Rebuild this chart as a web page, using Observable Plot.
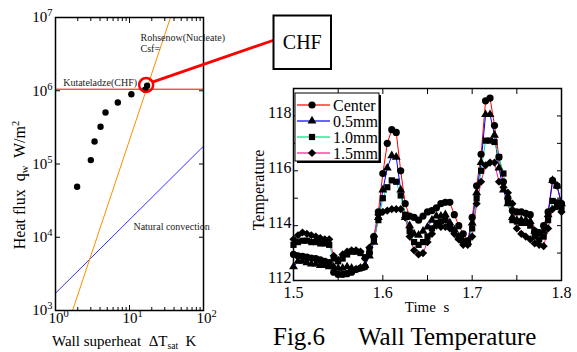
<!DOCTYPE html>
<html><head><meta charset="utf-8">
<script src="https://cdn.jsdelivr.net/npm/d3@7"></script>
<script src="https://cdn.jsdelivr.net/npm/@observablehq/plot@0.6"></script>
<style>
html,body{margin:0;padding:0;background:#fff;}
#wrap{position:relative;width:577px;height:352px;overflow:hidden;background:#fff;font-family:"Liberation Serif","Times New Roman",serif;}
#wrap svg{position:absolute;left:0;top:0;}
#wrap svg text{font-family:"Liberation Serif","Times New Roman",serif !important;}
</style></head><body><div id="wrap"></div>
<script>
// ---------- Left chart: boiling curve ----------
const boilDT = [1.96, 3.0, 3.37, 4.06, 4.74, 6.95, 10.6, 16.3, 17.3];
const boilQ  = [4.9e4, 1.13e5, 2.03e5, 3.22e5, 5.05e5, 6.9e5, 8.97e5, 1.03e6, 1.17e6];
const chfDT = [1, 100];
const chfQ  = [1.05e6, 1.05e6];
const rohsenowDT = [1.70, 35.8];
const rohsenowQ  = [1e3, 1e7];
const naturalDT = [1, 100];
const naturalQ  = [1.72e3, 1.75e5];
const chfMarkDT = [16.8];
const chfMarkQ  = [1.2e6];
const dtMajor = [1, 10, 100];
const dtMinor = [2,3,4,5,6,7,8,9,20,30,40,50,60,70,80,90];
const qTicks  = [1e3, 1e4, 1e5, 1e6, 1e7];

// ---------- Right chart: wall temperature ----------
const times = [1.500,1.505,1.510,1.515,1.520,1.525,1.530,1.535,1.540,1.545,
 1.550,1.555,1.560,1.565,1.570,1.575,1.580,1.585,1.590,1.595,
 1.600,1.605,1.610,1.615,1.620,1.625,1.630,1.635,1.640,1.645,
 1.650,1.655,1.660,1.665,1.670,1.675,1.680,1.685,1.690,1.695,
 1.700,1.705,1.710,1.715,1.720,1.725,1.730,1.735,1.740,1.745,
 1.750,1.755,1.760,1.765,1.770,1.775,1.780,1.785,1.790,1.795,1.800];
const seriesNames = ["Center", "0.5mm", "1.0mm", "1.5mm"];
const tCenter = [112.95,112.9,112.88,112.85,112.82,112.8,112.75,112.7,112.65,112.3,
 112.22,112.22,112.25,112.3,112.4,112.45,112.5,113.0,113.6,114.5,
 115.9,117.0,117.5,117.4,116.0,114.8,114.35,114.3,114.2,114.35,
 114.5,114.55,114.65,114.8,114.85,114.85,114.4,114.0,113.7,113.45,
 114.3,115.45,116.6,118.55,118.65,117.65,116.5,115.6,115.0,114.55,
 114.5,114.5,114.45,114.4,113.8,113.75,114.0,114.5,115.65,115.45,114.8];
const t05 = [112.5,112.7,112.7,112.65,112.6,112.6,112.55,112.55,112.5,112.5,
 112.45,112.45,112.5,112.45,112.4,112.45,112.55,112.9,113.4,114.3,
 115.3,116.1,116.55,116.5,115.3,114.3,114.0,113.7,113.65,113.8,
 113.95,114.2,114.35,114.35,114.4,114.1,113.85,113.6,113.45,113.4,
 114.1,115.2,116.3,118.05,118.05,117.3,116.1,115.3,114.8,114.3,
 114.2,114.2,114.2,114.15,113.8,113.7,113.8,114.4,115.65,115.45,114.8];
const t10 = [113.3,113.4,113.45,113.45,113.4,113.4,113.35,113.35,113.3,112.8,
 112.7,112.8,112.95,113.05,113.05,113.0,112.85,113.1,113.5,114.2,
 115.0,115.4,115.65,115.6,115.1,114.4,113.8,113.4,113.3,113.4,
 113.6,113.9,114.1,114.15,114.2,114.0,113.8,113.55,113.4,113.35,
 113.9,115.0,116.0,117.1,117.1,117.05,116.5,115.9,114.9,114.2,
 114.15,114.1,114.1,114.0,113.6,113.5,113.6,114.2,114.9,114.85,114.6];
const t15 = [113.5,113.65,113.75,113.7,113.65,113.6,113.55,113.5,113.5,112.9,
 112.75,112.95,113.05,113.1,113.1,113.05,112.8,113.2,113.6,114.4,
 114.5,114.55,114.6,114.6,114.6,114.3,113.6,113.1,112.95,113.0,
 113.4,113.7,114.0,113.95,113.95,113.9,113.7,113.5,113.3,113.3,
 113.6,114.8,115.6,116.2,116.3,116.3,115.6,115.4,115.2,114.8,
 113.9,113.7,113.6,113.5,113.35,113.3,113.25,113.9,114.6,114.7,114.5];
const tempMajor = [112, 114, 116, 118];
const tempTicks = [112,113,114,115,116,117,118,119];
const timeMajor = [1.5, 1.6, 1.7, 1.8];
const timeTicks = [1.5,1.55,1.6,1.65,1.7,1.75,1.8];

// ---------- styles ----------
const seriesColors  = ["#ff0000", "#0000ff", "#00e07a", "#ff1a8c"];
const seriesSymbols = ["circle", "triangle", "square", "diamond2"];
const seriesR       = [3.6, 3.3, 3.5, 3.7];
const FONT = "'Liberation Serif', 'Times New Roman', serif";

const wrap = document.getElementById("wrap");
const W = 577, H = 352;

// ----- left plot -----
const boil = boilDT.map((x, i) => ({x, y: boilQ[i]}));
const chf = chfDT.map((x, i) => ({x, y: chfQ[i]}));
const roh = rohsenowDT.map((x, i) => ({x, y: rohsenowQ[i]}));
const nat = naturalDT.map((x, i) => ({x, y: naturalQ[i]}));
const mark = chfMarkDT.map((x, i) => ({x, y: chfMarkQ[i]}));
const blank = () => "";
const expFmt = d => "10^" + Math.round(Math.log10(d));

const left = Plot.plot({
  width: W, height: H,
  marginLeft: 55, marginRight: 374, marginTop: 17, marginBottom: 42,
  style: {fontFamily: FONT, background: "transparent", color: "black", overflow: "visible"},
  x: {type: "log", domain: [1, 100], axis: null, label: null},
  y: {type: "log", domain: [1e3, 1e7], axis: null, label: null},
  marks: [
    Plot.line(nat, {x: "x", y: "y", stroke: "#3535ff", strokeWidth: 1}),
    Plot.line(roh, {x: "x", y: "y", stroke: "#ff8c00", strokeWidth: 1}),
    Plot.line(chf, {x: "x", y: "y", stroke: "#ff0000", strokeWidth: 1}),
    Plot.dot(boil, {x: "x", y: "y", r: 3.2, fill: "black"}),
    Plot.dot(mark, {x: "x", y: "y", r: 7, stroke: "#ff0000", strokeWidth: 2.5, fill: "none"}),
    Plot.text(["Kutateladze(CHF)"], {x: chfDT[0] * 1.27, y: chfQ[0], text: d => d, textAnchor: "start", lineAnchor: "bottom", dy: -3, fontSize: 10, fill: "#222"}),
    Plot.text(["Rohsenow(Nucleate)\nCsf="], {x: 14.1, y: 6.2e6, text: d => d, textAnchor: "start", lineAnchor: "top", lineHeight: 1.1, fontSize: 10, fill: "#222"}),
    Plot.text(["Natural convection"], {x: 11.3, y: 1.37e4, text: d => d, textAnchor: "start", fontSize: 10, fill: "#222"}),
    Plot.frame({stroke: "black", strokeWidth: 1.5}),
    Plot.axisX(dtMajor, {anchor: "bottom", tickSize: -5, tickFormat: blank, label: null}),
    Plot.axisX(dtMinor, {anchor: "bottom", tickSize: -3, tickFormat: blank, label: null}),
    Plot.axisX(dtMajor, {anchor: "top", tickSize: -5, tickFormat: blank, label: null}),
    Plot.axisX(dtMinor, {anchor: "top", tickSize: -3, tickFormat: blank, label: null}),
    Plot.axisY(qTicks, {anchor: "left", tickSize: -5, tickFormat: blank, label: null}),
    Plot.axisY(qTicks, {anchor: "right", tickSize: -5, tickFormat: blank, label: null}),
    Plot.axisX(dtMajor, {anchor: "bottom", tickSize: 0, tickPadding: 2, tickFormat: expFmt, fontSize: 15, dx: 3, label: null}),
    Plot.axisY(qTicks, {anchor: "left", tickSize: 0, tickPadding: 3, tickFormat: expFmt, fontSize: 15, label: null})
  ]
});

// ----- right plot -----
const rows = [tCenter, t05, t10, t15].map(vals => times.map((t, i) => ({t, v: vals[i]})));
const right = Plot.plot({
  width: W, height: H,
  marginLeft: 293, marginRight: 16, marginTop: 88, marginBottom: 72,
  style: {fontFamily: FONT, background: "transparent", color: "black", overflow: "visible"},
  x: {domain: [1.5, 1.8], axis: null, label: null},
  y: {domain: [112, 119], axis: null, label: null},
  marks: [
    ...rows.map((r, k) => Plot.line(r, {x: "t", y: "v", stroke: seriesColors[k], strokeWidth: 1})),
    ...rows.map((r, k) => Plot.dot(r, {x: "t", y: "v", symbol: seriesSymbols[k], r: seriesR[k], fill: "black", stroke: "none"})),
    Plot.frame({stroke: "black", strokeWidth: 1.5}),
    Plot.axisX(timeTicks, {anchor: "bottom", tickSize: -5, tickFormat: blank, label: null}),
    Plot.axisX(timeTicks, {anchor: "top", tickSize: -5, tickFormat: blank, label: null}),
    Plot.axisY(tempTicks, {anchor: "left", tickSize: -5, tickFormat: blank, label: null}),
    Plot.axisY(tempTicks, {anchor: "right", tickSize: -5, tickFormat: blank, label: null}),
    Plot.axisX(timeMajor, {anchor: "bottom", tickSize: 0, tickPadding: 6, tickFormat: d => d.toFixed(1), fontSize: 16, label: null}),
    Plot.axisY(tempMajor, {anchor: "left", tickSize: 0, tickPadding: 2, tickFormat: d => String(d), fontSize: 16, dy: -3, label: null})
  ]
});

wrap.appendChild(left);
wrap.appendChild(right);

// superscript exponents on log tick labels
left.querySelectorAll("text").forEach(t => {
  const m = /^10\^(\d+)$/.exec(t.textContent);
  if (!m) return;
  t.textContent = "10";
  const s = document.createElementNS("http://www.w3.org/2000/svg", "tspan");
  s.setAttribute("dy", "-6");
  s.setAttribute("font-size", "10.5");
  s.textContent = m[1];
  t.appendChild(s);
});

// ----- overlay: callout, legend, titles -----
const ov = d3.select(wrap).append("svg").attr("width", W).attr("height", H)
  .style("font-family", FONT).style("overflow", "visible");

const lx = left.scale("x"), ly = left.scale("y");
const cx = lx.apply(chfMarkDT[0]), cy = ly.apply(chfMarkQ[0]);
const box = {x: 273.5, y: 15.5, w: 57.5, h: 53.5};
const tx = box.x, ty = box.y + box.h / 2 - 2;
const ang = Math.atan2(ty - cy, tx - cx);
ov.append("line").attr("x1", cx + 7 * Math.cos(ang)).attr("y1", cy + 7 * Math.sin(ang))
  .attr("x2", tx).attr("y2", ty).attr("stroke", "#ff0000").attr("stroke-width", 2.8);
ov.append("rect").attr("x", box.x).attr("y", box.y).attr("width", box.w).attr("height", box.h)
  .attr("fill", "white").attr("stroke", "black").attr("stroke-width", 2);
ov.append("text").attr("x", box.x + box.w / 2).attr("y", box.y + box.h / 2 + 7)
  .attr("text-anchor", "middle").attr("font-size", 20).text("CHF");

// legend
const lg = ov.append("g");
lg.append("rect").attr("x", 297).attr("y", 95).attr("width", 84).attr("height", 68).attr("fill", "black");
lg.append("rect").attr("x", 295).attr("y", 93).attr("width", 84).attr("height", 68)
  .attr("fill", "white").attr("stroke", "black").attr("stroke-width", 1);
seriesNames.forEach((name, k) => {
  const y = 105 + k * 16;
  lg.append("line").attr("x1", 297).attr("x2", 330).attr("y1", y).attr("y2", y)
    .attr("stroke", seriesColors[k]).attr("stroke-width", 1.5).attr("opacity", 0.8);
  const sym = {circle: d3.symbolCircle, triangle: d3.symbolTriangle, square: d3.symbolSquare, diamond2: d3.symbolDiamond2}[seriesSymbols[k]];
  lg.append("path").attr("transform", `translate(312,${y})`)
    .attr("d", d3.symbol(sym, Math.PI * seriesR[k] * seriesR[k])()).attr("fill", "black");
  lg.append("text").attr("x", 333).attr("y", y + 5.5).attr("font-size", 16).text(name);
});

// left titles
const yt = ov.append("text").attr("transform", "translate(25,185) rotate(-90)")
  .attr("text-anchor", "middle").attr("font-size", 16).style("white-space", "pre");
yt.append("tspan").text("Heat flux  q");
yt.append("tspan").attr("font-size", 10.5).attr("dy", 3).text("w");
yt.append("tspan").attr("dy", -3).text("  W/m");
yt.append("tspan").attr("font-size", 10.5).attr("dy", -6).text("2");

const xt = ov.append("text").attr("x", 52).attr("y", 346).attr("font-size", 15).style("white-space", "pre");
xt.append("tspan").text("Wall superheat  \u0394T");
xt.append("tspan").attr("font-size", 9.5).attr("dy", 3).text("sat");
xt.append("tspan").attr("dy", -3).text("  K");

// right titles
ov.append("text").attr("x", 427).attr("y", 312).attr("text-anchor", "middle")
  .attr("font-size", 15).style("white-space", "pre").text("Time  s");
ov.append("text").attr("transform", "translate(264,190) rotate(-90)").attr("text-anchor", "middle")
  .attr("font-size", 16).text("Temperature");

// caption
const cap = ov.append("text").attr("y", 345).attr("font-size", 25).style("white-space", "pre");
cap.append("tspan").attr("x", 273).text("Fig.6");
cap.append("tspan").attr("x", 358).text("Wall Temperature");
</script></body></html>
